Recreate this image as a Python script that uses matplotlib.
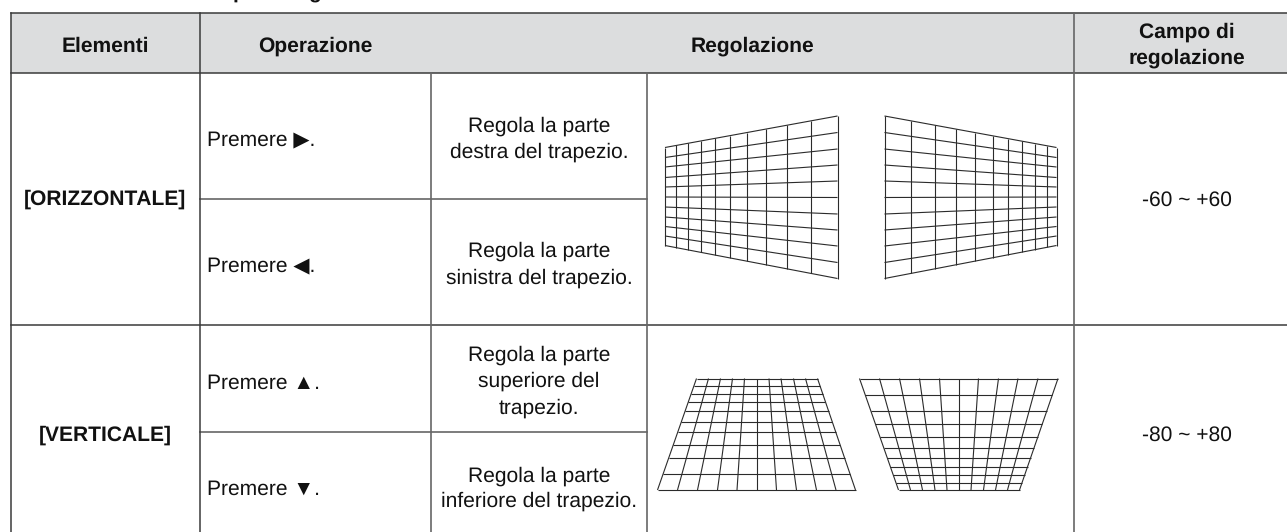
import numpy as np
import matplotlib.pyplot as plt

plt.rcParams['font.family'] = ['Liberation Sans', 'DejaVu Sans']
plt.rcParams['text.hinting'] = 'no_hinting'
plt.rcParams['text.hinting_factor'] = 1

# table rules, in image pixels
col_x = [10.5, 199.5, 431, 647, 1073.5]
row_y = [12.5, 72.5, 199, 325, 432]

# grid of the [ORIZZONTALE] keystones
h_left_x = [665, 676, 687.5, 700.5, 714.5, 730, 746.5, 765.5, 787, 811, 837.5]
h_left_y0 = [147.5, 157.5, 167, 177.5, 187, 197, 207, 217, 226.5, 236, 245.5]
h_left_y1 = [116, 132.5, 149, 165, 181, 197.5, 214, 230, 246, 262.5, 278.5]
h_right_x = [884.5, 911, 934.5, 956, 975, 992.5, 1007.5, 1021.5, 1035, 1046.5, 1056.5]

# grid of the [VERTICALE] keystones
v_left_top = [696.5, 708.5, 720.5, 732.5, 744.5, 756.5, 769, 781, 793.5, 805.5, 817.5]
v_left_bot = [657.5, 677.5, 697.5, 717.5, 737, 756.5, 776.5, 796.5, 816.5, 836, 855.5]
v_left_y = [378.5, 385.5, 393.5, 401.5, 411, 421.5, 432, 444.5, 458, 473.5, 490]
v_right_top = [859.5, 879.5, 899.5, 919.5, 939.5, 959, 978.5, 998.5, 1018, 1038, 1058]
v_right_bot = [898.5, 910.5, 922.5, 935, 947, 959, 971, 983.5, 995.5, 1007.5, 1019.5]
v_right_y = [378.5, 394.5, 410.5, 424, 436.5, 447.5, 457.5, 466.5, 474.5, 482.5, 490]

headers = [('Elementi', 105, 52), ('Operazione', 315, 52), ('Regolazione', 752, 52),
           ('Campo di', 1187, 38), ('regolazione', 1187, 64)]
row_names = [('[ORIZZONTALE]', 105, 205), ('[VERTICALE]', 105, 441)]
presses = [('Premere ▶.', 146), ('Premere ◀.', 272), ('Premere ▲.', 389), ('Premere ▼.', 495)]
adjust = [('Regola la parte', 131.5), ('destra del trapezio.', 158),
          ('Regola la parte', 257), ('sinistra del trapezio.', 284),
          ('Regola la parte', 360.5), ('superiore del', 387), ('trapezio.', 414),
          ('Regola la parte', 481.5), ('inferiore del trapezio.', 507)]
ranges = [('-60 ~ +60', 206), ('-80 ~ +80', 441)]

fig = plt.figure(figsize=(12.87, 5.32), dpi=100)
ax = fig.add_axes([0, 0, 1, 1])
ax.set_xlim(0, 1287)
ax.set_ylim(532, 0)
ax.axis('off')

# header band
ax.fill_between([col_x[0], 1287], row_y[0], row_y[1], color='#dcddde', lw=0)


def grid_lines(xa, ya, xb, yb, lw=0.8):
    for a, b, c, d in zip(xa, ya, xb, yb):
        ax.plot([a, c], [b, d], color='#2b2b2b', lw=lw, solid_capstyle='butt')


# horizontal keystones: verticals then the slanted lines
grid_lines(h_left_x, np.interp(h_left_x, [h_left_x[0], h_left_x[-1]], [h_left_y0[0], h_left_y1[0]]),
           h_left_x, np.interp(h_left_x, [h_left_x[0], h_left_x[-1]], [h_left_y0[-1], h_left_y1[-1]]))
grid_lines([h_left_x[0]] * 11, h_left_y0, [h_left_x[-1]] * 11, h_left_y1)

grid_lines(h_right_x, np.interp(h_right_x, [h_right_x[0], h_right_x[-1]], [h_left_y1[0], h_left_y0[0]]),
           h_right_x, np.interp(h_right_x, [h_right_x[0], h_right_x[-1]], [h_left_y1[-1], h_left_y0[-1]]))
grid_lines([h_right_x[0]] * 11, h_left_y1, [h_right_x[-1]] * 11, h_left_y0)

# vertical keystones: slanted lines then the horizontals
grid_lines(v_left_top, [v_left_y[0]] * 11, v_left_bot, [v_left_y[-1]] * 11)
grid_lines(np.interp(v_left_y, [v_left_y[0], v_left_y[-1]], [v_left_top[0], v_left_bot[0]]), v_left_y,
           np.interp(v_left_y, [v_left_y[0], v_left_y[-1]], [v_left_top[-1], v_left_bot[-1]]), v_left_y)

grid_lines(v_right_top, [v_right_y[0]] * 11, v_right_bot, [v_right_y[-1]] * 11)
grid_lines(np.interp(v_right_y, [v_right_y[0], v_right_y[-1]], [v_right_top[0], v_right_bot[0]]), v_right_y,
           np.interp(v_right_y, [v_right_y[0], v_right_y[-1]], [v_right_top[-1], v_right_bot[-1]]), v_right_y)

# table rules
dark = '#3a3a3a'
mid = '#666666'
ax.plot([col_x[0], 1287], [row_y[0], row_y[0]], color=dark, lw=1.1)
ax.plot([col_x[0], 1287], [row_y[1], row_y[1]], color=dark, lw=1.1)
ax.plot([col_x[0], 1287], [row_y[3], row_y[3]], color=dark, lw=1.1)
ax.plot([col_x[1], col_x[3]], [row_y[2], row_y[2]], color=mid, lw=1.2)
ax.plot([col_x[1], col_x[3]], [row_y[4], row_y[4]], color=mid, lw=1.2)
ax.plot([col_x[0], col_x[0]], [row_y[0], 532], color=dark, lw=1.1)
ax.plot([col_x[1], col_x[1]], [row_y[0], 532], color=dark, lw=1.1)
ax.plot([col_x[2], col_x[2]], [row_y[1], 532], color=mid, lw=1.2)
ax.plot([col_x[3], col_x[3]], [row_y[1], 532], color=mid, lw=1.2)
ax.plot([col_x[4], col_x[4]], [row_y[0], 532], color=mid, lw=1.2)

# cut off heading above the table, only the descenders show
ax.text(239, -2, 'p', fontsize=15.2, fontweight='bold', ha='center', va='baseline', color='#111111')
ax.text(315, -2, 'g', fontsize=15.2, fontweight='bold', ha='center', va='baseline', color='#111111')

for label, x, y in headers + row_names:
    ax.text(x, y, label, fontsize=15.2, fontweight='bold', ha='center', va='baseline', color='#111111')
for label, y in presses:
    ax.text(207, y, label, fontsize=15.2, ha='left', va='baseline', color='#111111')
for label, y in adjust:
    ax.text(539, y, label, fontsize=15.2, ha='center', va='baseline', color='#111111')
for label, y in ranges:
    ax.text(1187, y, label, fontsize=15.2, ha='center', va='baseline', color='#111111')

fig.savefig('out.png', dpi=100)
